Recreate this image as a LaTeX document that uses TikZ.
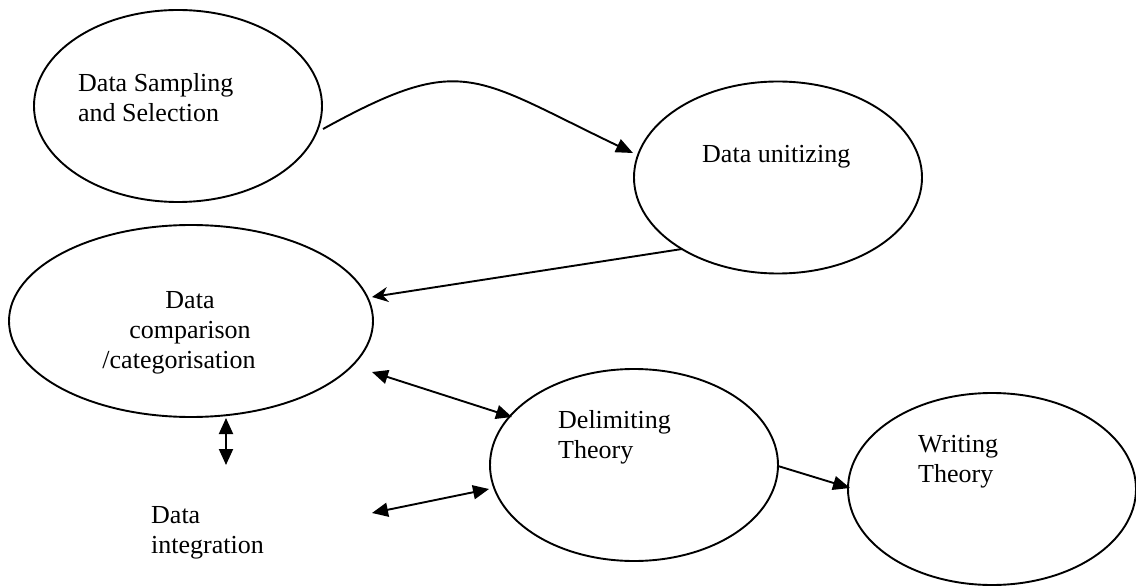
\documentclass[tikz,border=0pt]{standalone}
\usepackage{fontspec}
\setmainfont{Liberation Serif}
\usetikzlibrary{arrows.meta,shapes.geometric}

\begin{document}
\begin{tikzpicture}[x=1pt,y=-1pt,
  stage/.style={draw=black, line width=1.9pt, ellipse, inner sep=0pt,
    minimum width=288pt, minimum height=192pt},
  wide/.style={minimum width=364pt},
  lbl/.style={inner sep=0pt, font=\fontsize{26pt}{30pt}\selectfont},
  link/.style={line width=1.9pt},
  tri/.style={-{Triangle[length=17pt,width=14pt]}},
  bitri/.style={{Triangle[length=16pt,width=14pt]}-{Triangle[length=16pt,width=14pt]}},
  stl/.style={-{Stealth[length=16pt,width=15pt,inset=5pt]}}]

\useasboundingbox (0,0) rectangle (1136,588);

% the five stages
\node[stage] (sample) at (178,106) {};
\node[stage] (unit) at (778,177.5) {};
\node[stage,wide] (compare) at (191,321) {};
\node[stage] (delim) at (634,465) {};
\node[stage] (write) at (992,489) {};

% stage texts (multi-line nodes are anchored on the baseline of their last line)
\node[lbl, anchor=base west, align=left] (tsample) at (78,122) {Data Sampling\\and Selection};
\node[lbl, anchor=base west] (tunit) at (702,163) {Data unitizing};
\node[lbl, anchor=base, align=center] (tcompare) at (179,368)
  {\hspace*{22pt}Data\\\hspace*{22pt}comparison\\/categorisation};
\node[lbl, anchor=base west, align=left] (tdelim) at (558,458) {Delimiting\\Theory};
\node[lbl, anchor=base west, align=left] (twrite) at (918,482) {Writing\\Theory};
\node[lbl, anchor=base west, align=left] (tinteg) at (151,553) {Data\\integration};

% free ends of the integration arrows
\coordinate (integtop) at (226,465);
\coordinate (integside) at (372,513);

% connectors
\draw[link,tri] ([shift={(145,23)}]sample.center)
  .. controls +(140,-77) and +(-161,-77) .. ([shift={(-145,-24.5)}]unit.center);
\draw[link,stl] ([shift={(-96,71.5)}]unit.center) -- ([shift={(181,-24)}]compare.center);
\draw[link,bitri] ([shift={(181,51)}]compare.center) -- ([shift={(-122,-48)}]delim.center);
\draw[link,bitri] ([shift={(35,97)}]compare.center) -- (integtop);
\draw[link,bitri] (integside) -- ([shift={(-145,24)}]delim.center);
\draw[link,tri] ([shift={(144,1)}]delim.center) -- ([shift={(-142,-1)}]write.center);

\end{tikzpicture}
\end{document}
